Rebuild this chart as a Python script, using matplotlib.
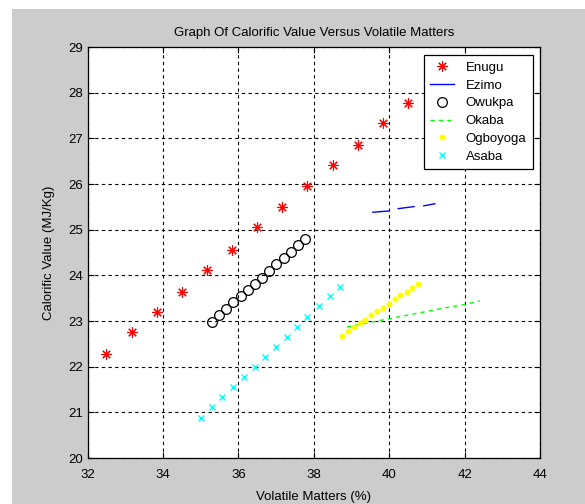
import matplotlib
matplotlib.use('Agg')
import matplotlib.pyplot as plt
from matplotlib.patches import Rectangle

plt.rcParams['font.family'] = ['Liberation Sans', 'DejaVu Sans']

# values
enugu_x = [32.5, 33.17, 33.83, 34.5, 35.17, 35.83, 36.5, 37.17, 37.83, 38.5, 39.17, 39.83, 40.5]
enugu_y = [22.27, 22.75, 23.19, 23.64, 24.12, 24.55, 25.05, 25.49, 25.96, 26.41, 26.86, 27.33, 27.77]

ezimo_x = [39.55, 40.0, 40.24, 40.7, 40.9, 41.23]
ezimo_y = [25.38, 25.41, 25.46, 25.51, 25.52, 25.57]

owukpa_x = [35.3, 35.49, 35.68, 35.87, 36.06, 36.25, 36.44, 36.63, 36.82, 37.01, 37.2, 37.39, 37.58, 37.77]
owukpa_y = [22.98, 23.13, 23.27, 23.41, 23.55, 23.67, 23.8, 23.95, 24.1, 24.24, 24.38, 24.52, 24.66, 24.8]

okaba_x = [38.88, 39.5, 40.0, 40.5, 41.0, 41.5, 42.0, 42.4]
okaba_y = [22.87, 22.97, 23.05, 23.13, 23.21, 23.29, 23.36, 23.44]

ogboyoga_x = [38.76, 38.92, 39.07, 39.23, 39.37, 39.53, 39.68, 39.84, 39.99, 40.15, 40.3, 40.46, 40.6, 40.76]
ogboyoga_y = [22.68, 22.78, 22.86, 22.95, 23.03, 23.13, 23.21, 23.29, 23.37, 23.48, 23.56, 23.64, 23.72, 23.82]

asaba_x = [35.0, 35.29, 35.57, 35.85, 36.15, 36.43, 36.7, 36.99, 37.28, 37.56, 37.83, 38.13, 38.42, 38.7]
asaba_y = [20.88, 21.12, 21.33, 21.55, 21.78, 21.99, 22.22, 22.43, 22.64, 22.87, 23.09, 23.32, 23.54, 23.75]

x_ticks = [32, 34, 36, 38, 40, 42, 44]
y_ticks = [20, 21, 22, 23, 24, 25, 26, 27, 28, 29]

fig = plt.figure(figsize=(5.85, 5.04), dpi=100)
fig.patch.set_facecolor('white')
# grey window background with a thin white strip left and top
fig.patches.append(Rectangle((12 / 585, 0), 1, (504 - 9) / 504, transform=fig.transFigure,
                             facecolor='#cccccc', edgecolor='none', zorder=-10))

ax = fig.add_axes([87.5 / 585, 46 / 504, (540 - 87.5) / 585, (458 - 47) / 504])
ax.set_facecolor('white')

ax.plot(enugu_x, enugu_y, linestyle='none', marker=(8, 2, 0), markersize=7.5,
        color='#ff0000', markeredgewidth=0.8, label='Enugu')
ax.plot(ezimo_x, ezimo_y, linestyle=(0, (12.5, 6)), color='#0000ff', linewidth=1.0, label='Ezimo')
ax.plot(owukpa_x, owukpa_y, linestyle='none', marker='o', markersize=7, markerfacecolor='none',
        markeredgecolor='black', markeredgewidth=0.9, label='Owukpa')
ax.plot(okaba_x, okaba_y, linestyle=(0, (3, 3)), color='#00ff00', linewidth=1.0, label='Okaba')
ax.plot(ogboyoga_x, ogboyoga_y, linestyle='none', marker='o', markersize=3.3,
        color='#ffff00', markeredgecolor='#ffff00', label='Ogboyoga')
ax.plot(asaba_x, asaba_y, linestyle='none', marker='x', markersize=4.5, color='#00ffff',
        markeredgewidth=1.0, label='Asaba')

ax.set_xlim(32, 44)
ax.set_ylim(20, 29)
ax.set_xticks(x_ticks)
ax.set_yticks(y_ticks)
ax.grid(True, color='black', linestyle=(0, (3, 3)), linewidth=0.8)
ax.tick_params(direction='in', top=True, right=True, length=4, width=0.8,
               labelsize=9.5, colors='black')
ax.tick_params(axis='x', pad=8)
ax.tick_params(axis='y', pad=3)
for s in ax.spines.values():
    s.set_linewidth(0.9)

ax.set_title('Graph Of Calorific Value Versus Volatile Matters', fontsize=9.5, pad=8)
ax.set_xlabel('Volatile Matters (%)', fontsize=9.5, labelpad=7)
ax.set_ylabel('Calorific Value (MJ/Kg)', fontsize=9.5, labelpad=10)

leg = ax.legend(loc='upper right', bbox_to_anchor=(0.9845, 0.9805), borderaxespad=0,
                fontsize=9.5, fancybox=False, framealpha=1, edgecolor='black',
                handlelength=1.8, labelspacing=0.42, borderpad=0.5, handletextpad=0.9)
leg.get_frame().set_linewidth(0.9)
# legend shows Ezimo as a plain solid line
leg.get_lines()[1].set_linestyle('-')

fig.savefig('out.png', dpi=100, facecolor=fig.get_facecolor())
